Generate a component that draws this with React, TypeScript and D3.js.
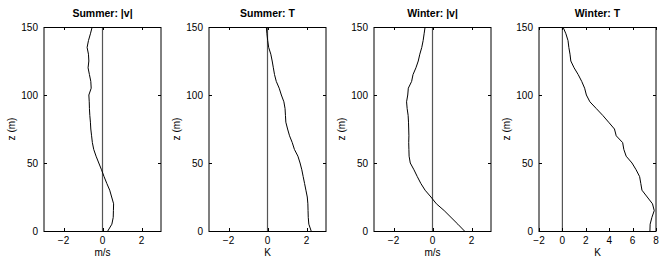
import React, { useEffect, useRef } from 'react';
import * as d3 from 'd3';

// heights (m) for every profile
const heights = [0, 5, 10, 15, 20, 25, 30, 35, 40, 45, 50, 55, 60, 65, 70, 75, 80, 85, 90, 95, 100, 105, 110, 115, 120, 125, 130, 135, 140, 145, 150];

const summerSpeed = [0.27, 0.48, 0.55, 0.56, 0.57, 0.47, 0.37, 0.22, 0.08, -0.05, -0.19, -0.33, -0.45, -0.52, -0.56, -0.6, -0.62, -0.65, -0.67, -0.68, -0.7, -0.58, -0.6, -0.67, -0.74, -0.7, -0.72, -0.79, -0.72, -0.62, -0.53];
const summerTemp = [2.24, 2.12, 2.09, 2.08, 2.07, 2.04, 1.97, 1.9, 1.83, 1.76, 1.67, 1.56, 1.38, 1.27, 1.13, 1.03, 0.94, 0.92, 0.9, 0.84, 0.71, 0.6, 0.45, 0.36, 0.3, 0.24, 0.17, 0.06, 0.01, -0.03, -0.06];
const winterSpeed = [1.64, 1.3, 0.95, 0.6, 0.2, -0.08, -0.38, -0.6, -0.78, -0.95, -1.14, -1.2, -1.21, -1.22, -1.21, -1.22, -1.23, -1.25, -1.3, -1.33, -1.27, -1.24, -1.07, -1.0, -0.85, -0.73, -0.65, -0.55, -0.48, -0.43, -0.38];
const winterTemp = [7.48, 7.5, 7.65, 7.85, 7.7, 7.25, 6.8, 6.7, 6.6, 6.3, 5.95, 5.45, 5.25, 5.15, 4.6, 4.45, 3.95, 3.45, 2.9, 2.35, 2.05, 1.9, 1.65, 1.35, 1.0, 0.72, 0.65, 0.55, 0.48, 0.3, 0.05];

const titles = ['Summer: |v|', 'Summer: T', 'Winter: |v|', 'Winter: T'];
const units = ['m/s', 'K', 'm/s', 'K'];
const xDomains = [[-3, 3], [-3, 3], [-3, 3], [-2, 8]];
const xTicks = [[-2, 0, 2], [-2, 0, 2], [-2, 0, 2], [-2, 0, 2, 4, 6, 8]];
const zTicks = [0, 50, 100, 150];

const App = () => {
  const svgRef = useRef(null);

  useEffect(() => {
    const svg = d3.select(svgRef.current);
    svg.selectAll('*').remove();

    const series = [summerSpeed, summerTemp, winterSpeed, winterTemp];
    const lefts = [44, 209, 374, 539];
    const top = 27;
    const width = 117;
    const height = 204;
    const font = 'Liberation Sans, Arial, Helvetica, sans-serif';
    const tickLen = 3;

    const y = d3.scaleLinear().domain([0, 150]).range([top + height, top]);

    series.forEach((vals, i) => {
      const left = lefts[i];
      const x = d3.scaleLinear().domain(xDomains[i]).range([left, left + width]);
      const g = svg.append('g');

      // zero reference line
      g.append('line')
        .attr('x1', x(0)).attr('x2', x(0))
        .attr('y1', top).attr('y2', top + height)
        .attr('stroke', '#555')
        .attr('stroke-width', 1.2);

      // profile
      const line = d3.line()
        .x((d) => x(d[0]))
        .y((d) => y(d[1]));
      g.append('path')
        .datum(vals.map((v, k) => [v, heights[k]]))
        .attr('fill', 'none')
        .attr('stroke', '#000')
        .attr('stroke-width', 1)
        .attr('d', line);

      // box
      g.append('rect')
        .attr('x', left).attr('y', top + 0.5)
        .attr('width', width).attr('height', height)
        .attr('fill', 'none')
        .attr('stroke', '#000')
        .attr('stroke-width', 1);

      // x ticks, inward on bottom and top
      xTicks[i].forEach((t) => {
        const px = Math.round(x(t)) + 0.5;
        g.append('line').attr('x1', px).attr('x2', px)
          .attr('y1', top + height).attr('y2', top + height - tickLen)
          .attr('stroke', '#000');
        g.append('line').attr('x1', px).attr('x2', px)
          .attr('y1', top).attr('y2', top + tickLen)
          .attr('stroke', '#000');
        g.append('text')
          .attr('x', x(t))
          .attr('y', top + height + 13)
          .attr('text-anchor', 'middle')
          .style('font-family', font)
          .style('font-size', '10px')
          .text(t < 0 ? '\u2212' + Math.abs(t) : String(t));
      });

      // z ticks, inward on left and right
      zTicks.forEach((t) => {
        const py = Math.round(y(t)) + 0.5;
        g.append('line').attr('x1', left).attr('x2', left + tickLen)
          .attr('y1', py).attr('y2', py).attr('stroke', '#000');
        g.append('line').attr('x1', left + width).attr('x2', left + width - tickLen)
          .attr('y1', py).attr('y2', py).attr('stroke', '#000');
        g.append('text')
          .attr('x', left - 6)
          .attr('y', y(t) + 3.5)
          .attr('text-anchor', 'end')
          .style('font-family', font)
          .style('font-size', '10px')
          .text(String(t));
      });

      g.append('text')
        .attr('x', left + width / 2)
        .attr('y', 17)
        .attr('text-anchor', 'middle')
        .style('font-family', font)
        .style('font-size', '10.5px')
        .style('font-weight', 'bold')
        .text(titles[i]);

      g.append('text')
        .attr('x', left + width / 2)
        .attr('y', 256)
        .attr('text-anchor', 'middle')
        .style('font-family', font)
        .style('font-size', '10px')
        .text(units[i]);

      g.append('text')
        .attr('transform', `translate(${left - 29},${top + height / 2}) rotate(-90)`)
        .attr('text-anchor', 'middle')
        .style('font-family', font)
        .style('font-size', '10px')
        .text('z (m)');
    });
  }, []);

  return (
    <svg
      ref={svgRef}
      width={664}
      height={267}
      style={{ position: 'absolute', left: 0, top: 0, background: '#fff' }}
    />
  );
};

export default App;
